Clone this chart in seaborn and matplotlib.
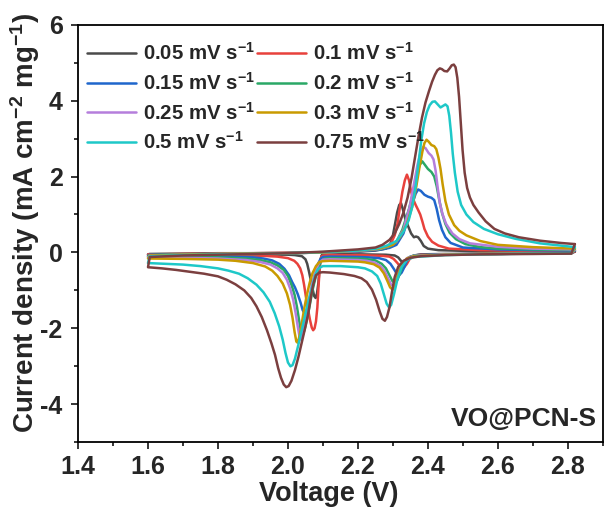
import numpy as np
import pandas as pd
import matplotlib
matplotlib.use("Agg")
import matplotlib.pyplot as plt
import seaborn as sns
from matplotlib.ticker import MultipleLocator

# ---------------- data ----------------
rates = ["0.05", "0.1", "0.15", "0.2", "0.25", "0.3", "0.5", "0.75"]
colors = ["#4a4a4a", "#e8413c", "#1f66cc", "#2aa866", "#b57edc", "#c99a00", "#1ec8c8", "#7b3f3f"]

# each loop: cathodic scan (2.82 V -> 1.6 V) followed by anodic scan (1.6 V -> 2.82 V)
V_005 = [2.82, 2.81, 2.70, 2.55, 2.45, 2.38, 2.36, 2.35, 2.342, 2.336, 2.33, 2.323, 2.315, 2.305, 2.28, 2.20, 2.10,
         2.096, 2.093, 2.09, 2.087, 2.083, 2.079, 2.075, 2.07, 2.065, 2.06, 2.055, 2.05, 2.04, 2.02, 2.00, 1.90, 1.80,
         1.70, 1.60,
         1.605, 1.70, 1.80, 1.90, 2.00, 2.10, 2.20, 2.25, 2.28, 2.29, 2.298, 2.305, 2.312, 2.318, 2.323, 2.328, 2.335,
         2.343, 2.352, 2.36, 2.366, 2.372, 2.38, 2.388, 2.40, 2.43, 2.55, 2.70, 2.82]
I_005 = [0.02, -0.02, -0.03, -0.04, -0.04, -0.05, -0.08, -0.14, -0.22, -0.28, -0.28, -0.22, -0.13, -0.08, -0.06, -0.05, -0.05,
         -0.08, -0.20, -0.45, -0.80, -1.08, -1.20, -1.15, -0.95, -0.72, -0.50, -0.30, -0.18, -0.10, -0.07, -0.06, -0.05, -0.05,
         -0.05, -0.05,
         -0.04, -0.03, -0.02, -0.02, -0.01, 0.00, 0.02, 0.05, 0.10, 0.18, 0.35, 0.70, 1.05, 1.25, 1.30, 1.15, 0.90,
         0.70, 0.50, 0.40, 0.42, 0.40, 0.30, 0.17, 0.10, 0.06, 0.03, 0.02, 0.02]

V_01 = [2.82, 2.81, 2.70, 2.55, 2.45, 2.38, 2.36, 2.348, 2.34, 2.333, 2.326, 2.32, 2.312, 2.302, 2.29, 2.27, 2.20,
        2.12, 2.10, 2.095, 2.092, 2.09, 2.087, 2.084, 2.08, 2.076, 2.072, 2.068, 2.063, 2.057, 2.051, 2.046, 2.041,
        2.035, 2.027, 2.018, 2.00, 1.97, 1.93, 1.88, 1.80, 1.70, 1.60,
        1.605, 1.70, 1.80, 1.90, 2.00, 2.10, 2.20, 2.26, 2.28, 2.295, 2.305, 2.313, 2.32, 2.327, 2.334, 2.34, 2.346,
        2.352, 2.358, 2.365, 2.372, 2.378, 2.384, 2.39, 2.40, 2.412, 2.43, 2.46, 2.55, 2.70, 2.82]
I_01 = [0.03, -0.02, -0.03, -0.04, -0.05, -0.06, -0.09, -0.17, -0.30, -0.38, -0.40, -0.36, -0.27, -0.17, -0.11, -0.09, -0.07,
        -0.07, -0.08, -0.12, -0.25, -0.50, -0.95, -1.45, -1.82, -2.00, -2.05, -1.98, -1.78, -1.48, -1.15, -0.85, -0.60,
        -0.42, -0.30, -0.22, -0.15, -0.11, -0.09, -0.08, -0.07, -0.065, -0.06,
        -0.05, -0.04, -0.03, -0.02, -0.01, 0.00, 0.03, 0.08, 0.12, 0.25, 0.45, 0.75, 1.20, 1.60, 1.90, 2.05, 1.90,
        1.60, 1.40, 1.25, 1.12, 1.00, 0.82, 0.62, 0.42, 0.28, 0.18, 0.10, 0.06, 0.04, 0.03]

V_015 = [2.82, 2.81, 2.70, 2.55, 2.45, 2.37, 2.35, 2.34, 2.332, 2.325, 2.318, 2.311, 2.303, 2.293, 2.28, 2.26, 2.23,
         2.20, 2.12, 2.10, 2.093, 2.086, 2.079, 2.072, 2.065, 2.058, 2.052, 2.047, 2.042, 2.036, 2.028, 2.02, 2.012,
         2.003, 1.99, 1.975, 1.955, 1.93, 1.90, 1.80, 1.70, 1.60,
         1.605, 1.70, 1.80, 1.90, 2.00, 2.10, 2.20, 2.26, 2.29, 2.31, 2.33, 2.345, 2.356, 2.365, 2.372, 2.38, 2.39,
         2.40, 2.41, 2.418, 2.425, 2.432, 2.44, 2.45, 2.465, 2.50, 2.60, 2.70, 2.82]
I_015 = [0.05, -0.02, -0.03, -0.04, -0.05, -0.07, -0.11, -0.22, -0.40, -0.53, -0.60, -0.56, -0.44, -0.30, -0.20, -0.15, -0.13,
         -0.12, -0.11, -0.12, -0.17, -0.30, -0.55, -0.85, -1.15, -1.40, -1.55, -1.60, -1.52, -1.32, -1.10, -0.92, -0.78,
         -0.60, -0.43, -0.30, -0.21, -0.16, -0.13, -0.11, -0.10, -0.09,
         -0.06, -0.05, -0.04, -0.03, -0.02, 0.00, 0.03, 0.07, 0.12, 0.20, 0.50, 0.95, 1.30, 1.55, 1.66, 1.62, 1.52,
         1.47, 1.44, 1.38, 1.15, 0.85, 0.60, 0.40, 0.25, 0.13, 0.08, 0.06, 0.05]

V_02 = [2.82, 2.81, 2.70, 2.55, 2.45, 2.36, 2.345, 2.332, 2.322, 2.313, 2.306, 2.299, 2.29, 2.28, 2.268, 2.25, 2.22,
        2.20, 2.12, 2.105, 2.095, 2.087, 2.079, 2.07, 2.062, 2.054, 2.047, 2.042, 2.037, 2.032, 2.026, 2.019, 2.01,
        2.00, 1.988, 1.97, 1.95, 1.92, 1.88, 1.80, 1.70, 1.60,
        1.605, 1.70, 1.80, 1.90, 2.00, 2.10, 2.20, 2.26, 2.29, 2.31, 2.327, 2.346, 2.358, 2.368, 2.376, 2.384, 2.392,
        2.40, 2.41, 2.418, 2.425, 2.432, 2.44, 2.45, 2.462, 2.48, 2.507, 2.55, 2.60, 2.70, 2.82]
I_02 = [0.06, -0.02, -0.03, -0.04, -0.05, -0.08, -0.13, -0.26, -0.50, -0.72, -0.80, -0.76, -0.60, -0.42, -0.30, -0.21, -0.17,
        -0.16, -0.15, -0.16, -0.22, -0.38, -0.65, -1.00, -1.40, -1.78, -2.05, -2.18, -2.08, -1.80, -1.45, -1.12, -0.85,
        -0.62, -0.46, -0.34, -0.26, -0.20, -0.16, -0.13, -0.12, -0.11,
        -0.07, -0.05, -0.04, -0.03, -0.02, 0.00, 0.04, 0.08, 0.15, 0.28, 0.60, 1.15, 1.60, 2.05, 2.30, 2.40, 2.30,
        2.20, 2.12, 2.00, 1.75, 1.40, 1.05, 0.75, 0.52, 0.35, 0.22, 0.14, 0.10, 0.08, 0.06]

V_025 = [2.82, 2.81, 2.70, 2.55, 2.45, 2.36, 2.34, 2.326, 2.315, 2.307, 2.301, 2.295, 2.287, 2.277, 2.265, 2.248, 2.225,
         2.20, 2.12, 2.10, 2.09, 2.08, 2.072, 2.064, 2.056, 2.048, 2.042, 2.037, 2.033, 2.028, 2.022, 2.015, 2.007,
         1.997, 1.985, 1.97, 1.95, 1.92, 1.88, 1.80, 1.70, 1.60,
         1.605, 1.70, 1.80, 1.90, 2.00, 2.10, 2.20, 2.26, 2.29, 2.31, 2.33, 2.348, 2.36, 2.37, 2.378, 2.386, 2.393,
         2.402, 2.41, 2.416, 2.422, 2.428, 2.434, 2.442, 2.452, 2.47, 2.49, 2.52, 2.60, 2.70, 2.82]
I_025 = [0.08, -0.02, -0.03, -0.04, -0.05, -0.09, -0.15, -0.30, -0.55, -0.78, -0.88, -0.85, -0.70, -0.50, -0.36, -0.27, -0.22,
         -0.20, -0.18, -0.19, -0.26, -0.45, -0.70, -1.05, -1.45, -1.85, -2.15, -2.30, -2.22, -1.95, -1.60, -1.25, -0.97,
         -0.72, -0.54, -0.42, -0.32, -0.25, -0.20, -0.16, -0.14, -0.13,
         -0.08, -0.06, -0.04, -0.03, -0.02, 0.00, 0.04, 0.09, 0.17, 0.28, 0.60, 1.20, 1.80, 2.30, 2.60, 2.78, 2.75,
         2.62, 2.55, 2.45, 2.15, 1.70, 1.30, 1.00, 0.75, 0.50, 0.35, 0.24, 0.15, 0.10, 0.08]

V_03 = [2.82, 2.81, 2.70, 2.55, 2.45, 2.36, 2.34, 2.325, 2.313, 2.305, 2.299, 2.292, 2.284, 2.274, 2.262, 2.245, 2.22,
        2.20, 2.12, 2.10, 2.09, 2.08, 2.07, 2.062, 2.054, 2.046, 2.039, 2.033, 2.028, 2.024, 2.019, 2.013, 2.006,
        1.997, 1.985, 1.97, 1.955, 1.935, 1.90, 1.85, 1.80, 1.70, 1.60,
        1.605, 1.70, 1.80, 1.90, 2.00, 2.10, 2.20, 2.26, 2.30, 2.32, 2.34, 2.355, 2.367, 2.376, 2.384, 2.39, 2.396,
        2.402, 2.41, 2.418, 2.424, 2.43, 2.436, 2.442, 2.45, 2.46, 2.475, 2.49, 2.51, 2.55, 2.60, 2.70, 2.82]
I_03 = [0.10, -0.02, -0.03, -0.04, -0.06, -0.10, -0.16, -0.32, -0.62, -0.88, -0.98, -0.92, -0.75, -0.55, -0.40, -0.31, -0.26,
        -0.24, -0.22, -0.23, -0.25, -0.36, -0.55, -0.80, -1.12, -1.50, -1.90, -2.20, -2.38, -2.35, -2.10, -1.72, -1.38,
        -1.08, -0.82, -0.62, -0.48, -0.37, -0.28, -0.22, -0.19, -0.17, -0.16,
        -0.08, -0.06, -0.04, -0.03, -0.02, 0.00, 0.05, 0.10, 0.20, 0.40, 0.75, 1.20, 1.75, 2.25, 2.65, 2.88, 2.97,
        2.92, 2.83, 2.80, 2.72, 2.50, 2.20, 1.80, 1.35, 1.00, 0.72, 0.57, 0.45, 0.30, 0.20, 0.14, 0.10]

V_05 = [2.82, 2.81, 2.70, 2.55, 2.45, 2.36, 2.34, 2.325, 2.313, 2.303, 2.295, 2.289, 2.282, 2.274, 2.265, 2.255, 2.24,
        2.22, 2.20, 2.15, 2.10, 2.095, 2.085, 2.077, 2.068, 2.058, 2.048, 2.038, 2.028, 2.02, 2.013, 2.007, 2.00, 1.993,
        1.985, 1.975, 1.962, 1.948, 1.93, 1.91, 1.885, 1.86, 1.83, 1.80, 1.75, 1.70, 1.65, 1.60,
        1.605, 1.70, 1.80, 1.90, 2.00, 2.10, 2.20, 2.25, 2.28, 2.31, 2.33, 2.345, 2.355, 2.365, 2.373, 2.381, 2.389,
        2.397, 2.405, 2.413, 2.42, 2.428, 2.436, 2.443, 2.45, 2.456, 2.461, 2.466, 2.471, 2.477, 2.485, 2.495, 2.51,
        2.53, 2.56, 2.60, 2.65, 2.72, 2.82]
I_05 = [0.14, -0.02, -0.03, -0.05, -0.07, -0.12, -0.20, -0.38, -0.70, -1.10, -1.38, -1.45, -1.35, -1.10, -0.82, -0.62, -0.50,
        -0.42, -0.39, -0.36, -0.36, -0.38, -0.45, -0.62, -0.95, -1.30, -1.70, -2.10, -2.50, -2.80, -2.97, -3.00, -2.90, -2.65,
        -2.30, -1.95, -1.60, -1.30, -1.05, -0.85, -0.68, -0.56, -0.48, -0.42, -0.36, -0.32, -0.30, -0.28,
        -0.10, -0.07, -0.05, -0.04, -0.02, 0.01, 0.05, 0.10, 0.17, 0.30, 0.55, 0.85, 1.20, 1.75, 2.35, 2.95, 3.40,
        3.70, 3.88, 3.97, 3.98, 3.90, 3.82, 3.86, 3.90, 3.85, 3.60, 3.15, 2.60, 2.10, 1.60, 1.25, 1.00,
        0.80, 0.62, 0.48, 0.36, 0.24, 0.14]

V_075 = [2.82, 2.81, 2.70, 2.55, 2.45, 2.38, 2.35, 2.33, 2.315, 2.305, 2.297, 2.29, 2.283, 2.277, 2.27, 2.262, 2.252,
         2.24, 2.225, 2.21, 2.19, 2.16, 2.12, 2.10, 2.09, 2.08, 2.072, 2.065, 2.058, 2.05, 2.04, 2.03, 2.02, 2.01, 2.002,
         1.995, 1.988, 1.98, 1.972, 1.963, 1.953, 1.94, 1.925, 1.91, 1.895, 1.875, 1.85, 1.825, 1.80, 1.76, 1.72,
         1.68, 1.64, 1.60,
         1.605, 1.70, 1.80, 1.90, 2.00, 2.10, 2.20, 2.25, 2.27, 2.29, 2.305, 2.318, 2.33, 2.342, 2.353, 2.363, 2.373,
         2.383, 2.393, 2.403, 2.412, 2.42, 2.427, 2.434, 2.44, 2.447, 2.455, 2.462, 2.468, 2.474, 2.479, 2.484, 2.489,
         2.494, 2.499, 2.505, 2.512, 2.52, 2.53, 2.545, 2.565, 2.59, 2.62, 2.66, 2.72, 2.78, 2.82]
I_075 = [0.22, -0.03, -0.04, -0.05, -0.07, -0.10, -0.14, -0.22, -0.38, -0.65, -1.05, -1.45, -1.70, -1.80, -1.75, -1.55, -1.25,
         -0.98, -0.78, -0.68, -0.62, -0.57, -0.53, -0.52, -0.53, -0.60, -0.85, -1.20, -1.60, -1.95, -2.35, -2.75, -3.10, -3.38, -3.52,
         -3.55, -3.48, -3.30, -3.05, -2.70, -2.40, -2.05, -1.70, -1.42, -1.20, -1.00, -0.84, -0.72, -0.63, -0.56, -0.51,
         -0.46, -0.42, -0.39,
         -0.12, -0.08, -0.06, -0.04, -0.02, 0.02, 0.08, 0.13, 0.20, 0.33, 0.50, 0.75, 1.05, 1.45, 1.95, 2.50, 3.05,
         3.55, 3.95, 4.25, 4.50, 4.68, 4.80, 4.85, 4.83, 4.78, 4.77, 4.85, 4.93, 4.95, 4.88, 4.60, 4.10,
         3.40, 2.70, 2.10, 1.70, 1.45, 1.25, 1.05, 0.82, 0.62, 0.50, 0.40, 0.31, 0.25, 0.22]

x_ticks = [1.4, 1.6, 1.8, 2.0, 2.2, 2.4, 2.6, 2.8]
y_ticks = [-4, -2, 0, 2, 4, 6]

# ---------------- build the table ----------------
labels = [r + r" mV s$^{-1}$" for r in rates]
series = [(V_005, I_005), (V_01, I_01), (V_015, I_015), (V_02, I_02),
          (V_025, I_025), (V_03, I_03), (V_05, I_05), (V_075, I_075)]
frames = []
for lab, (v, i) in zip(labels, series):
    frames.append(pd.DataFrame({"Voltage": v, "Current": i, "Rate": lab}))
df = pd.concat(frames, ignore_index=True)

# ---------------- style ----------------
sns.set_style("ticks")
plt.rcParams["font.family"] = ["Liberation Sans", "DejaVu Sans"]
plt.rcParams["font.weight"] = "bold"
plt.rcParams["mathtext.fontset"] = "custom"
plt.rcParams["mathtext.rm"] = "Liberation Sans:bold"
plt.rcParams["mathtext.bf"] = "Liberation Sans:bold"
plt.rcParams["mathtext.default"] = "bf"
plt.rcParams["axes.unicode_minus"] = False

fig = plt.figure(figsize=(6.11, 5.13), dpi=100)
ax = fig.add_axes([0.1277, 0.138, 0.859, 0.8138])

sns.lineplot(data=df, x="Voltage", y="Current", hue="Rate", hue_order=labels,
             palette=colors, sort=False, estimator=None, units="Rate", lw=1.8, ax=ax)

ax.set_xlim(1.4, 2.9)
ax.set_ylim(-5, 6)
ax.set_xticks(x_ticks)
ax.set_xticklabels([f"{t:.1f}" for t in x_ticks])
ax.set_yticks(y_ticks)
ax.set_yticklabels([f"{t:d}" for t in y_ticks])
ax.xaxis.set_minor_locator(MultipleLocator(0.1))
ax.yaxis.set_minor_locator(MultipleLocator(1))
ax.tick_params(which="major", direction="out", length=5, width=1.3, labelsize=18)
ax.tick_params(which="minor", direction="out", length=3, width=1.3)
ax.tick_params(axis="y", which="major", pad=6)
ax.tick_params(axis="x", which="major", pad=4)
for lab in ax.get_xticklabels() + ax.get_yticklabels():
    lab.set_fontweight("bold")
for sp in ax.spines.values():
    sp.set_linewidth(1.3)
    sp.set_color("black")
    sp.set_visible(True)

ax.set_xlabel("Voltage (V)", fontsize=19.5, fontweight="bold")
ax.xaxis.set_label_coords(0.478, -0.092)
ax.xaxis.label.set_va("top")
ax.set_ylabel(r"Current density (mA cm$^{-2}$ mg$^{-1}$)", fontsize=20, fontweight="bold")
ax.yaxis.set_label_coords(-0.068, 0.525)

handles, hl = ax.get_legend_handles_labels()
order = [0, 2, 4, 6, 1, 3, 5, 7]
ax.legend([handles[k] for k in order], [hl[k] for k in order], ncol=2, loc="upper left",
          bbox_to_anchor=(0.017, 0.958), frameon=False, prop={"size": 14.7, "weight": "bold"},
          handlelength=2.4, handletextpad=0.33, columnspacing=0.1, labelspacing=0.38,
          borderaxespad=0, borderpad=0)

ax.text(0.989, 0.056, "VO@PCN-S", transform=ax.transAxes, ha="right", va="center",
        fontsize=19, fontweight="bold")

fig.savefig("out.png", dpi=100)
